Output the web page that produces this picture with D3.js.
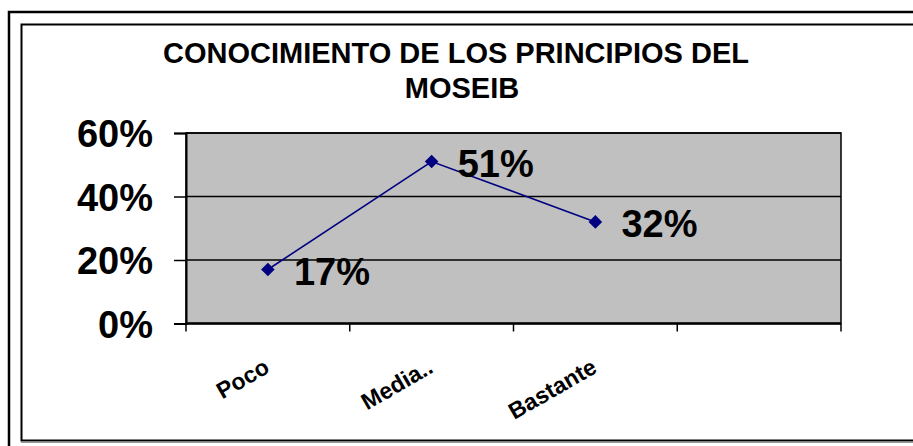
<!DOCTYPE html>
<meta charset="utf-8">
<style>
body { margin: 0; background: #fff; }
text { font-family: "Liberation Sans", Arial, sans-serif; font-weight: bold; fill: #000; }
</style>
<svg width="913" height="446"></svg>
<script src="https://d3js.org/d3.v7.min.js"></script>
<script>
// Datos
var titleLines = ["CONOCIMIENTO DE LOS PRINCIPIOS DEL", "MOSEIB"];
var categories = ["Poco", "Media..", "Bastante", ""];
var values = [0.17, 0.51, 0.32];
var yTicks = [0, 0.2, 0.4, 0.6];

var svg = d3.select("svg");

// marcos
svg.append("rect")
    .attr("x", 9).attr("y", 12).attr("width", 920).attr("height", 450)
    .attr("fill", "none").attr("stroke", "#000").attr("stroke-width", 2.5);
svg.append("rect")
    .attr("x", 21.5).attr("y", 24.5).attr("width", 900).attr("height", 416)
    .attr("fill", "#fff").attr("stroke", "#000").attr("stroke-width", 2);
svg.append("line")
    .attr("x1", 21).attr("x2", 913).attr("y1", 442.5).attr("y2", 442.5)
    .attr("stroke", "#999").attr("stroke-width", 1);

// titulo
svg.append("text").attr("x", 456).attr("y", 63).attr("text-anchor", "middle")
    .style("font-size", "29px").text(titleLines[0]);
svg.append("text").attr("x", 462).attr("y", 98).attr("text-anchor", "middle")
    .style("font-size", "29px").text(titleLines[1]);

var plotL = 186, plotR = 841, plotT = 133, plotB = 323.5;

var x = d3.scaleBand().domain(categories).range([plotL, plotR]);
var y = d3.scaleLinear().domain([0, 0.6]).range([plotB, plotT]);

// area del grafico
svg.append("rect")
    .attr("x", plotL).attr("y", plotT)
    .attr("width", plotR - plotL).attr("height", plotB - plotT)
    .attr("fill", "#c0c0c0").attr("stroke", "#000").attr("stroke-width", 1.5);

// lineas de cuadricula
svg.append("g").selectAll("line")
    .data(yTicks.slice(1))
    .enter().append("line")
    .attr("x1", plotL).attr("x2", plotR)
    .attr("y1", function(d) { return y(d); }).attr("y2", function(d) { return y(d); })
    .attr("stroke", "#000").attr("stroke-width", 1.3);

// eje Y
var gy = svg.append("g").attr("transform", "translate(" + plotL + ",0)")
    .call(d3.axisLeft(y).tickValues(yTicks).tickSize(12).tickFormat(d3.format(".0%")));
gy.attr("font-family", null).attr("font-size", null);
gy.select(".domain").attr("stroke", "#000").attr("stroke-width", 2);
gy.selectAll(".tick line").attr("stroke", "#000").attr("stroke-width", 1.5);
gy.selectAll(".tick text")
    .attr("x", -33).attr("dy", "0.36em")
    .style("font-size", "38px");

// eje X
var gx = svg.append("g").attr("transform", "translate(0," + plotB + ")");
gx.append("line").attr("x1", plotL).attr("x2", plotR).attr("stroke", "#000").attr("stroke-width", 2.5);
gx.selectAll(".tk")
    .data(categories.concat(["end"]))
    .enter().append("line")
    .attr("x1", function(d, i) { return i < categories.length ? x(d) : plotR; })
    .attr("x2", function(d, i) { return i < categories.length ? x(d) : plotR; })
    .attr("y1", 0).attr("y2", 8)
    .attr("stroke", "#000").attr("stroke-width", 1.5);
gx.selectAll(".lbl")
    .data(categories.filter(function(d) { return d; }))
    .enter().append("text")
    .attr("text-anchor", "end")
    .attr("transform", function(d) {
      return "translate(" + (x(d) + x.bandwidth() / 2 + 3) + ",48) rotate(-30)";
    })
    .style("font-size", "23px")
    .text(function(d) { return d; });

// serie
var pts = values.map(function(v, i) { return [x(categories[i]) + x.bandwidth() / 2, y(v)]; });
svg.append("path")
    .attr("d", d3.line()(pts))
    .attr("fill", "none").attr("stroke", "#000080").attr("stroke-width", 1.6);
svg.append("g").selectAll("path")
    .data(pts)
    .enter().append("path")
    .attr("transform", function(d) { return "translate(" + d[0] + "," + d[1] + ") rotate(45)"; })
    .attr("d", "M-4.8,-4.8H4.8V4.8H-4.8Z")
    .attr("fill", "#000080");

// etiquetas de datos
svg.append("g").selectAll("text")
    .data(values)
    .enter().append("text")
    .attr("x", function(d, i) { return pts[i][0] + 26; })
    .attr("y", function(d, i) { return pts[i][1] + 15; })
    .style("font-size", "38px")
    .text(function(d) { return d3.format(".0%")(d); });
</script>
